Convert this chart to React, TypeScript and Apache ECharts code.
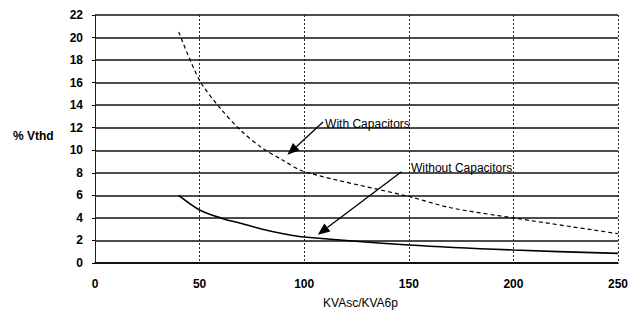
import React, { useEffect, useRef } from "react";
import * as echarts from "echarts";

const withCapX = [40, 50, 60, 70, 80, 90, 100, 150, 170, 200, 250];
const withCapY = [20.5, 16.2, 13.7, 11.7, 10.2, 9.1, 8.1, 5.9, 4.9, 4.0, 2.6];
const withoutCapX = [40, 50, 60, 70, 80, 90, 100, 150, 200, 250];
const withoutCapY = [6.0, 4.7, 4.0, 3.5, 3.0, 2.6, 2.3, 1.6, 1.15, 0.85];

const annotations = [
  { text: "With Capacitors", label: [110, 12.3], from: [109, 12.5], to: [92, 9.6] },
  { text: "Without Capacitors", label: [151, 8.4], from: [146.5, 8.1], to: [106.5, 2.5] },
];

const FONT = "'Liberation Sans', Arial, sans-serif";

export default function App() {
  const ref = useRef<HTMLDivElement>(null);
  useEffect(() => {
    if (!ref.current) return;
    const chart = echarts.init(ref.current, undefined, { renderer: "svg" });
    chart.setOption({
      animation: false,
      backgroundColor: "#ffffff",
      grid: { left: 95, right: 20, top: 15, bottom: 55, containLabel: false },
      xAxis: {
        type: "value",
        min: 0,
        max: 250,
        interval: 50,
        name: "KVAsc/KVA6p",
        nameLocation: "middle",
        nameGap: 34,
        nameTextStyle: { fontFamily: FONT, fontSize: 12, color: "#000", padding: [0, 0, 0, 8] },
        axisLine: { show: true, lineStyle: { color: "#000", width: 1.6 } },
        axisTick: { show: false },
        axisLabel: { fontFamily: FONT, fontSize: 12, fontWeight: "bold", color: "#000", margin: 15 },
        splitLine: { show: true, lineStyle: { color: "#222", width: 1, type: [2, 2] } },
      },
      yAxis: {
        type: "value",
        min: 0,
        max: 22,
        interval: 2,
        axisLine: { show: true, lineStyle: { color: "#222", width: 1, type: [2, 2] } },
        axisTick: { show: true, length: 3, lineStyle: { color: "#000" } },
        axisLabel: { fontFamily: FONT, fontSize: 12, fontWeight: "bold", color: "#000", margin: 12 },
        splitLine: { show: true, lineStyle: { color: "#111", width: 1.6 } },
      },
      series: [
        {
          name: "With Capacitors",
          type: "line",
          data: withCapX.map((x, i) => [x, withCapY[i]]),
          smooth: 0.3,
          showSymbol: false,
          lineStyle: { color: "#000", width: 1.2, type: [4, 3] },
          z: 5,
        },
        {
          name: "Without Capacitors",
          type: "line",
          data: withoutCapX.map((x, i) => [x, withoutCapY[i]]),
          smooth: 0.3,
          showSymbol: false,
          lineStyle: { color: "#000", width: 1.6 },
          z: 5,
        },
      ],
    });

    const toPx = (p: number[]) => chart.convertToPixel({ gridIndex: 0 }, p) as number[];
    const elements: any[] = [
      {
        type: "text",
        left: 13,
        top: 130,
        style: { text: "% Vthd", fontFamily: FONT, fontSize: 12, fontWeight: "bold", fill: "#000" },
      },
    ];
    annotations.forEach((a) => {
      const lp = toPx(a.label);
      const f = toPx(a.from);
      const t = toPx(a.to);
      const dx = t[0] - f[0];
      const dy = t[1] - f[1];
      const len = Math.sqrt(dx * dx + dy * dy);
      const ux = dx / len;
      const uy = dy / len;
      const hl = 12;
      const hw = 5;
      const bx = t[0] - ux * hl;
      const by = t[1] - uy * hl;
      elements.push({
        type: "text",
        x: lp[0],
        y: lp[1],
        style: { text: a.text, fontFamily: FONT, fontSize: 12, fill: "#000", verticalAlign: "middle" },
        z: 10,
      });
      elements.push({
        type: "line",
        shape: { x1: f[0], y1: f[1], x2: bx, y2: by },
        style: { stroke: "#000", lineWidth: 1.3 },
        z: 10,
      });
      elements.push({
        type: "polygon",
        shape: {
          points: [
            [t[0], t[1]],
            [bx - uy * hw, by + ux * hw],
            [bx + uy * hw, by - ux * hw],
          ],
        },
        style: { fill: "#000" },
        z: 10,
      });
    });
    chart.setOption({ graphic: elements });
    return () => chart.dispose();
  }, []);
  return (
    <div
      ref={ref}
      style={{ position: "absolute", left: 0, top: 0, width: 638, height: 318 }}
    />
  );
}
